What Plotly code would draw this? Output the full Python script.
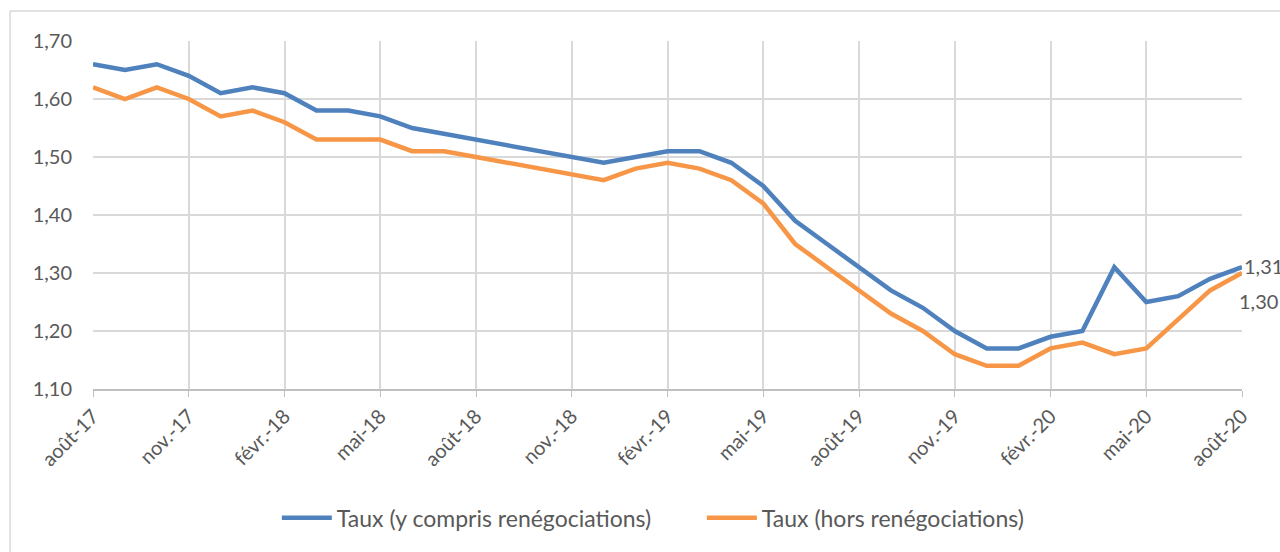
import plotly.graph_objects as go

months = ["août-17", "sept.-17", "oct.-17", "nov.-17", "déc.-17",
          "janv.-18", "févr.-18", "mars-18", "avr.-18", "mai-18", "juin-18", "juil.-18",
          "août-18", "sept.-18", "oct.-18", "nov.-18", "déc.-18",
          "janv.-19", "févr.-19", "mars-19", "avr.-19", "mai-19", "juin-19", "juil.-19",
          "août-19", "sept.-19", "oct.-19", "nov.-19", "déc.-19",
          "janv.-20", "févr.-20", "mars-20", "avr.-20", "mai-20", "juin-20", "juil.-20",
          "août-20"]

taux_avec = [1.66, 1.65, 1.66, 1.64, 1.61, 1.62, 1.61, 1.58, 1.58, 1.57, 1.55, 1.54,
             1.53, 1.52, 1.51, 1.50, 1.49, 1.50, 1.51, 1.51, 1.49, 1.45, 1.39, 1.35,
             1.31, 1.27, 1.24, 1.20, 1.17, 1.17, 1.19, 1.20, 1.31, 1.25, 1.26, 1.29,
             1.31]

taux_hors = [1.62, 1.60, 1.62, 1.60, 1.57, 1.58, 1.56, 1.53, 1.53, 1.53, 1.51, 1.51,
             1.50, 1.49, 1.48, 1.47, 1.46, 1.48, 1.49, 1.48, 1.46, 1.42, 1.35, 1.31,
             1.27, 1.23, 1.20, 1.16, 1.14, 1.14, 1.17, 1.18, 1.16, 1.17, 1.22, 1.27,
             1.30]

names = ["Taux (y compris renégociations)", "Taux (hors renégociations)"]
colors = ["#4F81BD", "#F79646"]

x = list(range(len(months)))
tick_idx = x[::3]
tick_txt = [months[i] for i in tick_idx]

FONT = "Lato"
TXT = "#595959"

fig = go.Figure()
for vals, name, col in zip([taux_avec, taux_hors], names, colors):
    fig.add_trace(go.Scatter(x=x, y=vals, mode="lines", name=name,
                             line=dict(color=col, width=4.5)))

# end labels
fig.add_annotation(x=x[-1], y=taux_avec[-1], text=f"{taux_avec[-1]:.2f}".replace(".", ","),
                   showarrow=False, xanchor="left", yanchor="middle", xshift=0, yshift=1,
                   font=dict(family=FONT, size=20, color=TXT))
fig.add_annotation(x=x[-1], y=taux_hors[-1], text=f"{taux_hors[-1]:.2f}".replace(".", ","),
                   showarrow=False, xanchor="right", yanchor="middle", xshift=38, yshift=-28,
                   font=dict(family=FONT, size=20, color=TXT))

# outer chart frame (cropped at right and bottom)
fig.add_shape(type="line", xref="paper", yref="paper", x0=-0.0722, x1=1.2,
              y0=1.086, y1=1.086, line=dict(color="#D9D9D9", width=1.5))
fig.add_shape(type="line", xref="paper", yref="paper", x0=-0.0722, x1=-0.0722,
              y0=1.086, y1=-0.7, line=dict(color="#D9D9D9", width=1.5))

fig.update_layout(
    width=1280, height=552,
    margin=dict(l=93, r=38, t=41, b=163),
    paper_bgcolor="white", plot_bgcolor="white",
    separators=", ",
    font=dict(family=FONT, size=20, color=TXT),
    showlegend=True,
    legend=dict(orientation="h", x=0.16, xanchor="left", y=-0.37, yanchor="middle",
                font=dict(family=FONT, size=23, color=TXT), itemwidth=50,
                entrywidth=360, traceorder="normal"),
    xaxis=dict(range=[0, len(months) - 1], tickmode="array", tickvals=tick_idx,
               ticktext=tick_txt, tickangle=-45, showgrid=True, gridcolor="#D9D9D9",
               gridwidth=1.5, showline=True, linecolor="#BFBFBF", linewidth=1.5,
               ticks="outside", ticklen=6, tickcolor="#BFBFBF", zeroline=False,
               tickfont=dict(family=FONT, size=20, color=TXT)),
    yaxis=dict(range=[1.10, 1.70], tickmode="array",
               tickvals=[1.10, 1.20, 1.30, 1.40, 1.50, 1.60, 1.70],
               tickformat=".2f", showgrid=True, gridcolor="#D9D9D9", gridwidth=1.5,
               zeroline=False, showline=False, ticks="", ticklabelstandoff=20,
               tickfont=dict(family=FONT, size=20, color=TXT)),
)

fig.write_html("out.html", config={"displayModeBar": False},
               post_script="document.body.style.margin='0';")
